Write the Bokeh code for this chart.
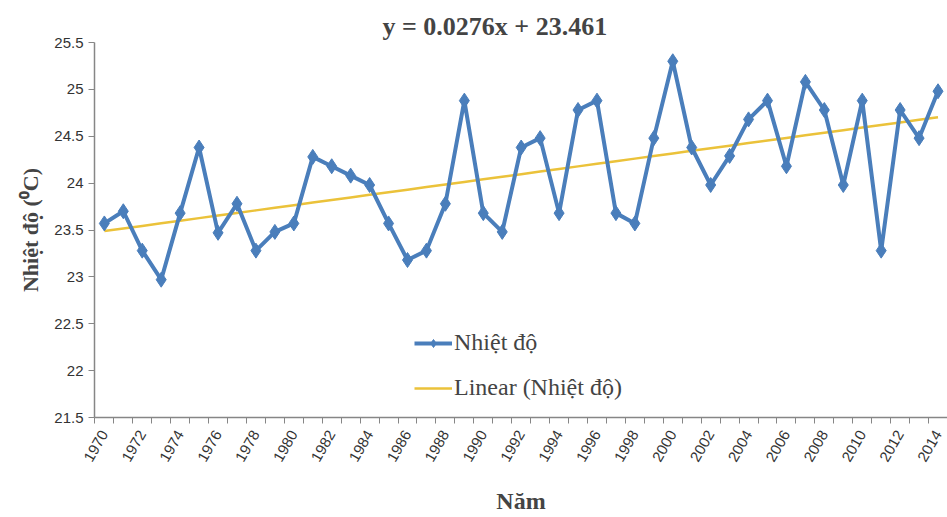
import numpy as np
from bokeh.plotting import figure
from bokeh.models import FixedTicker, Legend, LegendItem, Range1d
from bokeh.embed import file_html
from bokeh.resources import INLINE

years = list(range(1970, 2015))
temps = [23.57, 23.70, 23.28, 22.97, 23.68, 24.38, 23.47, 23.78, 23.28, 23.48,
         23.57, 24.28, 24.18, 24.08, 23.98, 23.57, 23.18, 23.28, 23.78, 24.88,
         23.68, 23.48, 24.38, 24.48, 23.68, 24.78, 24.88, 23.68, 23.57, 24.48,
         25.30, 24.38, 23.98, 24.29, 24.68, 24.88, 24.18, 25.08, 24.78, 23.98,
         24.88, 23.28, 24.78, 24.48, 24.98]
slope = 0.0276
intercept = 23.461
y_ticks = [21.5, 22, 22.5, 23, 23.5, 24, 24.5, 25, 25.5]
label_years = list(range(1970, 2015, 2))

trend = [slope * (i + 1) + intercept for i in range(len(years))]

SERIF = "Liberation Serif"
SANS = "Liberation Sans"

p = figure(width=947, height=517, output_backend="svg", toolbar_location=None,
           x_range=Range1d(1969.48, 2014.5), y_range=Range1d(21.5, 25.5),
           title="y = 0.0276x + 23.461",
           min_border_left=94, min_border_right=0, min_border_top=42, min_border_bottom=0)

p.title.align = "left"
p.title.text_font = SERIF
p.title.text_font_size = "26px"
p.title.text_font_style = "bold"
p.title.offset = 288
p.title.standoff = 3

p.outline_line_color = None
p.xgrid.grid_line_color = None
p.ygrid.grid_line_color = None
p.background_fill_color = "white"
p.border_fill_color = "white"

tr = p.line(years, trend, line_color="#EBC23A", line_width=2.5)
ln = p.line(years, temps, line_color="#4A7EBB", line_width=4)
mk = p.scatter(years, temps, marker="diamond", size=15, fill_color="#4A7EBB",
               line_color="#4A7EBB")

p.xaxis.ticker = FixedTicker(ticks=label_years,
                             minor_ticks=[y - 0.5 for y in years])
p.xaxis.major_tick_line_color = None
p.xaxis.minor_tick_out = 6
p.xaxis.minor_tick_in = 0
p.xaxis.minor_tick_line_color = "#868686"
p.xaxis.axis_line_color = "#868686"
p.xaxis.axis_line_width = 1.5
p.xaxis.major_label_orientation = np.pi / 3
p.xaxis.major_label_text_font = SANS
p.xaxis.major_label_text_font_size = "15px"
p.xaxis.major_label_text_color = "#333333"
p.xaxis.major_label_standoff = 8
p.xaxis.axis_label = "Năm"
p.xaxis.axis_label_text_font = SERIF
p.xaxis.axis_label_text_font_size = "24px"
p.xaxis.axis_label_text_font_style = "bold"
p.xaxis.axis_label_standoff = 20

p.yaxis.ticker = FixedTicker(ticks=y_ticks)
p.yaxis.major_tick_out = 6
p.yaxis.major_tick_in = 0
p.yaxis.minor_tick_line_color = None
p.yaxis.major_tick_line_color = "#868686"
p.yaxis.axis_line_color = "#868686"
p.yaxis.axis_line_width = 1.5
p.yaxis.major_label_text_font = SANS
p.yaxis.major_label_text_font_size = "15px"
p.yaxis.major_label_text_color = "#333333"
p.yaxis.axis_label = "Nhiệt độ (⁰C)"
p.yaxis.axis_label_text_font = SERIF
p.yaxis.axis_label_text_font_size = "22px"
p.yaxis.axis_label_text_font_style = "bold"
p.yaxis.axis_label_standoff = 8

legend = Legend(items=[LegendItem(label="Nhiệt độ", renderers=[ln, mk]),
                       LegendItem(label="Linear (Nhiệt độ)", renderers=[tr])],
                location=(320, 16), label_text_font=SERIF, label_text_font_size="24px",
                glyph_width=38, glyph_height=20, spacing=18, label_standoff=2,
                border_line_color=None, background_fill_alpha=0.0, padding=4)
p.add_layout(legend)

open("out.html", "w").write(file_html(p, INLINE))
